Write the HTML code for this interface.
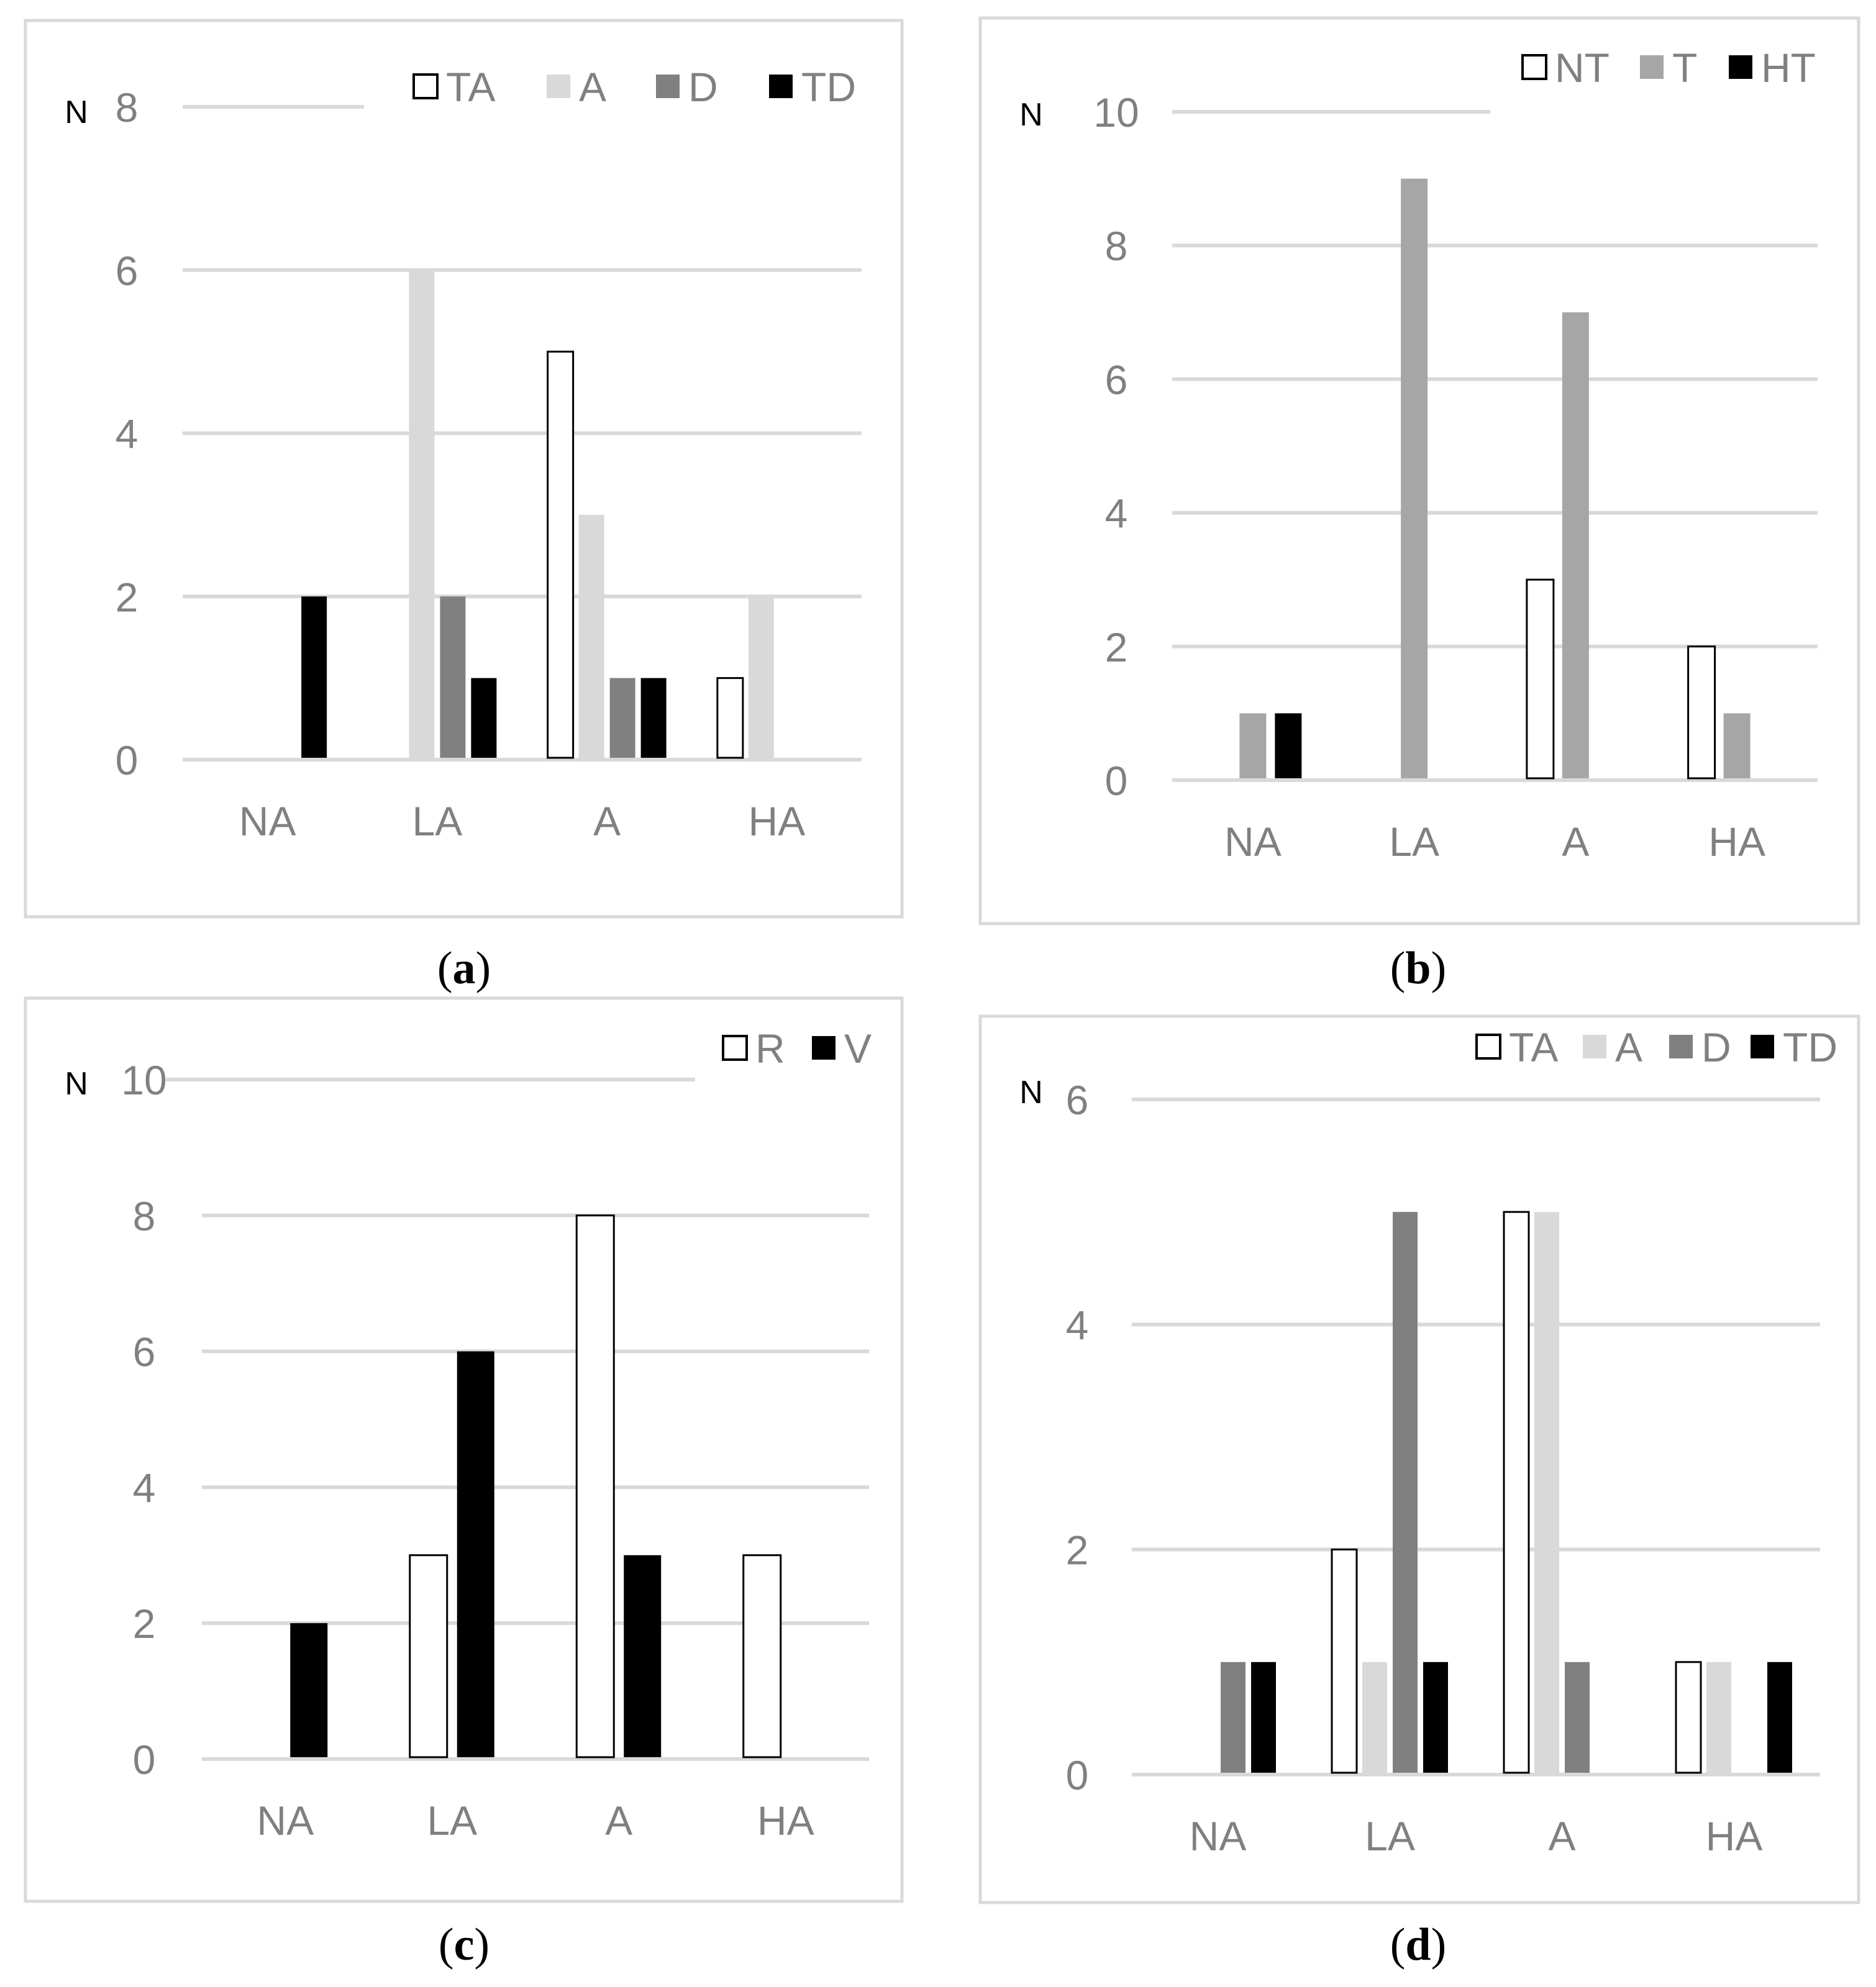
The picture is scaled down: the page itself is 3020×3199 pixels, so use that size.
<!DOCTYPE html>
<html><head><meta charset="utf-8"><style>
html,body{margin:0;padding:0;background:#fff;}
svg{display:block;}
text{font-family:"Liberation Sans","DejaVu Sans",sans-serif;}
text.cap{font-family:"Liberation Serif","DejaVu Serif",serif;}
</style></head>
<body>
<svg id="fig" xmlns="http://www.w3.org/2000/svg" width="3020" height="3199" viewBox="0 0 3020 3199"></svg>
<script>
// ---- data ----
const categories = ["NA","LA","A","HA"];
// panel a
const aSeriesNames = ["TA","A","D","TD"];
const aTA = [0,0,5,1];
const aA  = [0,6,3,2];
const aD  = [0,2,1,0];
const aTD = [2,1,1,0];
const aTicks = [0,2,4,6,8];
// panel b
const bSeriesNames = ["NT","T","HT"];
const bNT = [0,0,3,2];
const bT  = [1,9,7,1];
const bHT = [1,0,0,0];
const bTicks = [0,2,4,6,8,10];
// panel c
const cSeriesNames = ["R","V"];
const cR = [0,3,8,3];
const cV = [2,6,3,0];
const cTicks = [0,2,4,6,8,10];
// panel d
const dSeriesNames = ["TA","A","D","TD"];
const dTA = [0,2,5,1];
const dA  = [0,1,5,1];
const dD  = [1,5,1,0];
const dTD = [1,1,0,1];
const dTicks = [0,2,4,6];

const NS = "http://www.w3.org/2000/svg";
const svg = document.getElementById('fig');
function mk(tag, attrs, parent){
  const e = document.createElementNS(NS, tag);
  for (const k in attrs) e.setAttribute(k, attrs[k]);
  (parent||svg).appendChild(e);
  return e;
}
const GRID = "#d9d9d9", LBL = "#808080";

function drawPanel(p){
  const g = mk('g', {});
  
  
  const box = mk('rect', {x:p.box[0], y:p.box[1], width:p.box[2]-p.box[0], height:p.box[3]-p.box[1], fill:'#fff', stroke:GRID, 'stroke-width':5}, g);
  
  
  const maxV = p.ticks[p.ticks.length-1];
  const yS = v => p.y0 + (p.yTop - p.y0) * v / maxV;
  const bandW = (p.x1 - p.x0) / categories.length;
  const xC = i => p.x0 + bandW * (i + 0.5);
  p.ticks.forEach((t, i) => {
    const isTop = i === p.ticks.length - 1;
    const sx = (isTop && p.topStart) ? p.topStart : p.x0;
    const ex = (isTop && p.topEnd) ? p.topEnd : p.x1;
    const ln = mk('line', {x1:sx, x2:ex, y1:yS(t), y2:yS(t), stroke:GRID, 'stroke-width':6}, g);
    
    
    const tx = mk('text', {x:p.tickX, y:yS(t) + 24, 'text-anchor':'middle', 'font-size':66, fill:LBL}, g);
    tx.textContent = t;
    
    
  });
  const nl = mk('text', {x:p.nPos[0], y:p.nPos[1] + 18, 'text-anchor':'middle', 'font-size':52, fill:'#000'}, g);
  nl.textContent = 'N';
  
  
  categories.forEach((c, i) => {
    const t = mk('text', {x:xC(i), y:p.catY + 24, 'text-anchor':'middle', 'font-size':66, fill:LBL}, g);
    t.textContent = c;
    
    
  });
  const n = p.series.length;
  p.series.forEach((vals, s) => {
    const st = p.styles[s];
    vals.forEach((v, i) => {
      if (v <= 0) return;
      const cx = xC(i) + (s - (n - 1) / 2) * p.pitch;
      const top = yS(v);
      const r = mk('rect', {x:cx - p.barW/2, y:top, width:p.barW, height:p.y0 - top - 3, fill:st.fill}, g);
      if (st.stroke) { r.setAttribute('stroke', st.stroke); r.setAttribute('stroke-width', 3); }
      
      
    });
  });
  p.names.forEach((nm, s) => {
    const st = p.styles[s];
    const lx = p.legX[s], ly = p.legY;
    const sq = mk('rect', {x:lx, y:ly - 19, width:38, height:38, fill:st.fill}, g);
    if (st.stroke) { sq.setAttribute('stroke', st.stroke); sq.setAttribute('stroke-width', 4); }
    
    
    const t = mk('text', {x:lx + 52, y:ly + 24, 'font-size':66, fill:LBL}, g);
    t.textContent = nm;
    
    
  });
  const cap = mk('text', {x:p.cap[0], y:p.cap[1] + 25, 'text-anchor':'middle', 'font-size':74, fill:'#000', 'class':'cap'}, g);
  cap.innerHTML = '(<tspan font-weight="bold">' + p.id + '</tspan>)';
  
  
}

const WHITE = {fill:'#fff', stroke:'#000'}, LIGHT = {fill:'#d9d9d9'}, MID = {fill:'#808080'}, BLACK = {fill:'#000'}, TGRAY = {fill:'#a6a6a6'};

drawPanel({id:'a', box:[41,33,1452,1476], x0:294, x1:1387, y0:1223, yTop:172, topEnd:586, ticks:aTicks,
  tickX:204, nPos:[123,180], catY:1321, series:[aTA,aA,aD,aTD], names:aSeriesNames,
  styles:[WHITE,LIGHT,MID,BLACK], pitch:50, barW:41, legX:[666,880,1056,1238], legY:139, cap:[747,1558]});
drawPanel({id:'b', box:[1578,29,2992,1487], x0:1887, x1:2926, y0:1256, yTop:180, topEnd:2399, ticks:bTicks,
  tickX:1797, nPos:[1660,184], catY:1354, series:[bNT,bT,bHT], names:bSeriesNames,
  styles:[WHITE,TGRAY,BLACK], pitch:57, barW:43, legX:[2451,2640,2783], legY:108, cap:[2283,1558]});
drawPanel({id:'c', box:[41,1607,1452,3061], x0:325, x1:1399, y0:2832, yTop:1738, topStart:267, topEnd:1119, ticks:cTicks,
  tickX:232, nPos:[123,1744], catY:2930, series:[cR,cV], names:cSeriesNames,
  styles:[WHITE,BLACK], pitch:76, barW:60, legX:[1164,1307], legY:1687, cap:[747,3130]});
drawPanel({id:'d', box:[1578,1636,2992,3063], x0:1822, x1:2930, y0:2857, yTop:1770, topEnd:0, ticks:dTicks,
  tickX:1734, nPos:[1660,1758], catY:2955, series:[dTA,dA,dD,dTD], names:dSeriesNames,
  styles:[WHITE,LIGHT,MID,BLACK], pitch:49, barW:40, legX:[2377,2548,2687,2818], legY:1685, cap:[2283,3130]});
</script>
</body></html>
